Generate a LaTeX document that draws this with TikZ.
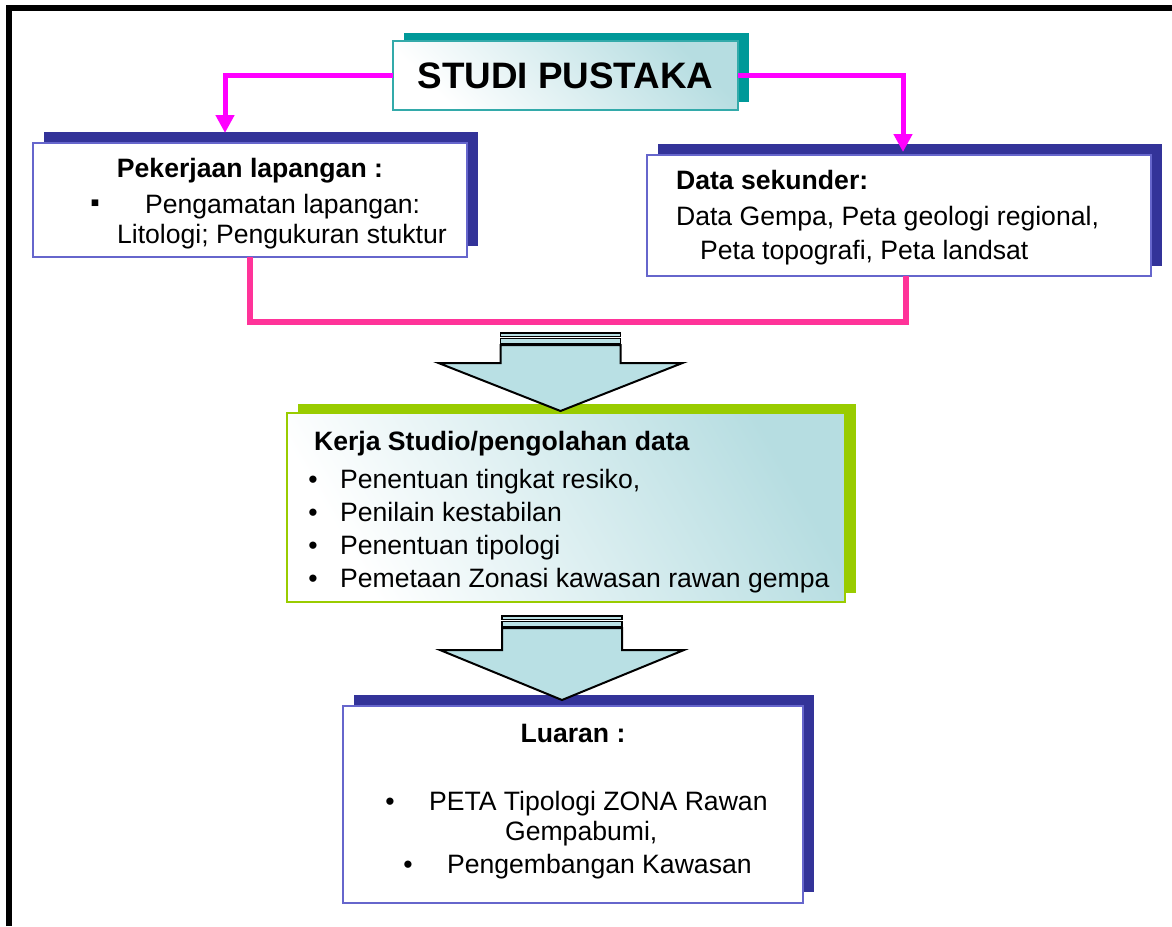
\documentclass[tikz,border=0pt]{standalone}
\usepackage{fontspec}
\setmainfont{Liberation Sans}
\usetikzlibrary{arrows.meta,shadows}

\definecolor{navy}{HTML}{333399}
\definecolor{tealdark}{HTML}{009999}
\definecolor{tealline}{HTML}{33AAAA}
\definecolor{lime}{HTML}{99CC00}
\definecolor{boxline}{HTML}{6666CC}
\definecolor{paleblue}{HTML}{B6DDE1}
\definecolor{arrowblue}{HTML}{B9E0E4}
\definecolor{magline}{HTML}{FF00FF}
\definecolor{pinkline}{HTML}{FF3399}

\tikzset{
  body/.style={font=\fontsize{13.3}{16}\selectfont},
  head/.style={font=\bfseries\fontsize{13.3}{16}\selectfont},
  box/.style={rectangle,inner sep=0pt,outer sep=0pt,line width=0.75pt},
  navybox/.style={box,draw=boxline,fill=white,
    general shadow={fill=navy,shadow xshift=5.5pt,shadow yshift=5.5pt}},
  magarrow/.style={magline,line width=2.5pt,-{Triangle[length=9pt,width=9pt]}},
  pinkpath/.style={pinkline,line width=3pt,line join=miter},
  blockarrow/.style={draw=black,fill=arrowblue,line width=1pt,line join=miter}
}

\begin{document}
\begin{tikzpicture}[x=0.5pt,y=-0.5pt]
    \useasboundingbox (0,0) rectangle (1172,926);

    % Outer frame
    \draw[line width=3pt] (8.5,926) -- (8.5,8) -- (1172,8);

    % Arrow ends and corners
    \coordinate (t1) at (225,133);
    \coordinate (t2) at (903,152);
    \coordinate (pr) at (906,322);

    % Boxes
    \node[box,draw=tealline,top color=paleblue,bottom color=white,shading angle=-45,
          general shadow={fill=tealdark,shadow xshift=5.5pt,shadow yshift=4pt},
          minimum width=172.5pt,minimum height=34.5pt,
          font=\bfseries\fontsize{18.4}{22}\selectfont] (studi) at (565.5,75.5) {STUDI PUSTAKA};
    \node[navybox,minimum width=217pt,minimum height=57pt] (pek) at (250,200) {};
    \node[navybox,minimum width=252pt,minimum height=60.5pt,
          general shadow={fill=navy,shadow xshift=5.5pt,shadow yshift=5pt}] (data) at (899,215.5) {};
    \node[box,draw=lime,top color=paleblue,bottom color=white,shading angle=-60,
          general shadow={fill=lime,shadow xshift=5.5pt,shadow yshift=4.5pt},
          minimum width=279pt,minimum height=94.5pt] (kerja) at (566,507.5) {};
    \node[navybox,minimum width=230pt,minimum height=98.5pt] (luaran) at (573,804.5) {};

    % Magenta arrows from STUDI PUSTAKA
    \draw[magarrow] (studi.west) -| (t1);
    \draw[magarrow] (studi.east) -| (t2);

    % Pink join line
    \draw[pinkpath] (pek.south) |- (pr) -- (data.south -| pr);

    % Block arrows
    \foreach \cx/\ty/\hy/\tipy in {560.5/333/363/411, 562/616/650/700} {
        \draw[blockarrow,line width=0.6pt] ({\cx-60},\ty) rectangle ({\cx+60},{\ty+3.5});
        \draw[blockarrow,line width=0.6pt] ({\cx-60},{\ty+5.5}) rectangle ({\cx+60},{\ty+10.5});
        \draw[blockarrow] ({\cx-60},{\ty+12}) -- ({\cx-60},\hy) -- ({\cx-122},\hy)
            -- (\cx,\tipy) -- ({\cx+122},\hy) -- ({\cx+60},\hy) -- ({\cx+60},{\ty+12}) -- cycle;
    }

    % Pekerjaan lapangan
    \node[head,anchor=base] (pekt) at (250,177) {Pekerjaan lapangan :};
    \node[body,anchor=base] (pekb) at (95,211) {▪};
    \node[body,anchor=base west] (pek1) at (138,213) {Pengamatan lapangan:};
    \node[body,anchor=base west] (pek2) at (110,243) {Litologi; Pengukuran stuktur};

    % Data sekunder
    \node[head,anchor=base west] (datat) at (669,189) {Data sekunder:};
    \node[body,anchor=base west] (data1) at (669,225) {Data Gempa, Peta geologi regional,};
    \node[body,anchor=base west] (data2) at (693,259) {Peta topografi, Peta landsat};

    % Kerja studio
    \node[head,anchor=base west] (kerjat) at (307,450) {Kerja Studio/pengolahan data};
    \foreach \t [count=\i] in {{Penentuan tingkat resiko,},{Penilain kestabilan},
                               {Penentuan tipologi},{Pemetaan Zonasi kawasan rawan gempa}} {
        \node[body,anchor=base] (kb\i) at (313,{488+33*(\i-1)}) {•};
        \node[body,anchor=base west] (kt\i) at (333,{488+33*(\i-1)}) {\t};
    }

    % Luaran
    \node[head,anchor=base] (luarant) at (573,742) {Luaran :};
    \node[body,anchor=base] (lb1) at (390,810) {•};
    \node[body,anchor=base west] (l1) at (422,810) {PETA Tipologi ZONA Rawan};
    \node[body,anchor=base west] (l2) at (498,840) {Gempabumi,};
    \node[body,anchor=base] (lb2) at (408,873) {•};
    \node[body,anchor=base west] (l3) at (440,873) {Pengembangan Kawasan};
\end{tikzpicture}
\end{document}
